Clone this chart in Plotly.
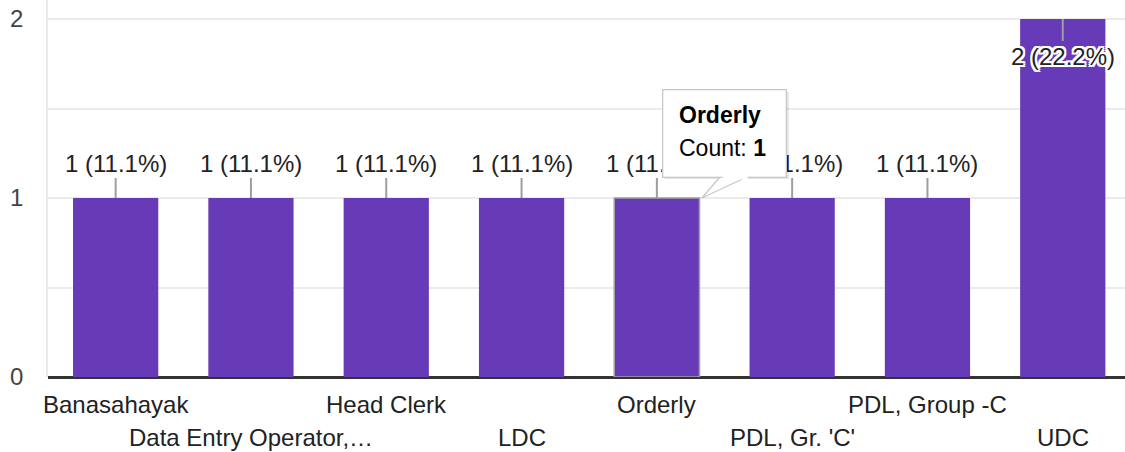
import plotly.graph_objects as go

categories = ["Banasahayak", "Data Entry Operator,…", "Head Clerk", "LDC",
              "Orderly", "PDL, Gr. 'C'", "PDL, Group -C", "UDC"]
counts = [1, 1, 1, 1, 1, 1, 1, 2]
y_tick_vals = [0, 0.5, 1, 1.5, 2]
y_tick_text = ["0", "", "1", "", "2"]
hovered = "Orderly"

total = sum(counts)
xs = list(range(len(categories)))
purple = "#673ab7"
FONT = "Arial, Liberation Sans, sans-serif"
FS = 24

hi = categories.index(hovered)
fig = go.Figure()
fig.add_trace(go.Bar(
    x=xs, y=counts, marker_color=purple,
    marker_line_color=["#a0a0a0" if i == hi else purple for i in xs],
    marker_line_width=[1.5 if i == hi else 0 for i in xs],
    hoverinfo="skip",
))

halo = ", ".join(f"{dx}px {dy}px 0 #fff" for dx in (-2, 0, 2) for dy in (-2, 0, 2) if dx or dy)
ymax = max(counts)
ann = []
for i, (c, v) in enumerate(zip(categories, counts)):
    label = f"{v} ({v / total * 100:.1f}%)"
    inside = v == ymax
    ann.append(dict(
        x=i, y=v, xref="x", yref="y", text=label, showarrow=True,
        ax=0, ay=37 if inside else -35, arrowhead=0, arrowwidth=2,
        arrowcolor="#9e9e9e", standoff=0, startstandoff=0,
        font=dict(family=FONT, size=FS, color="#222",
                  shadow=(halo if inside else "none")),
    ))
    ann.append(dict(
        x=i, y=0, xref="x", yref="y", text=c, showarrow=False,
        yshift=-27 if i % 2 == 0 else -60, xanchor="center", yanchor="middle",
        font=dict(family=FONT, size=FS, color="#222"),
    ))

# tooltip (box as annotation so it covers the labels, pointer as shape)
shadow = "M 8,19 L 132,19 L 132,106 L 8,106 Z"
pointer = "M 64,22 L 45,0 L 92,22"
shapes = [
    dict(type="path", path=shadow, xref="x", yref="y", xsizemode="pixel", ysizemode="pixel",
         xanchor=hi, yanchor=counts[hi], fillcolor="rgba(0,0,0,0.10)",
         line=dict(width=0), layer="above"),
    dict(type="path", path=pointer + " Z", xref="x", yref="y", xsizemode="pixel", ysizemode="pixel",
         xanchor=hi, yanchor=counts[hi], fillcolor="#ffffff",
         line=dict(width=0), layer="above"),
    dict(type="path", path=pointer, xref="x", yref="y", xsizemode="pixel", ysizemode="pixel",
         xanchor=hi, yanchor=counts[hi], fillcolor="rgba(0,0,0,0)",
         line=dict(color="#c8c8c8", width=1.3), layer="above"),
]
ann.append(dict(x=hi, y=counts[hi], xref="x", yref="y", text=" ", showarrow=False,
                xanchor="center", yanchor="middle", xshift=68, yshift=65,
                width=122, height=86, bgcolor="#ffffff", bordercolor="#c8c8c8",
                borderwidth=1.3, borderpad=0, font=dict(size=10)))
# cover the box border where the pointer joins
ann.append(dict(x=hi, y=counts[hi], xref="x", yref="y", text=" ", showarrow=False,
                xanchor="center", yanchor="middle", xshift=78, yshift=21,
                width=24, height=3, bgcolor="#ffffff", borderpad=0, font=dict(size=2)))
ann.append(dict(x=hi, y=counts[hi], xref="x", yref="y", text=f"<b>{hovered}</b>",
                showarrow=False, xanchor="left", yanchor="middle", xshift=20, yshift=83,
                font=dict(family=FONT, size=23, color="#000")))
ann.append(dict(x=hi, y=counts[hi], xref="x", yref="y", text=f"Count: <b>{counts[hi]}</b>",
                showarrow=False, xanchor="left", yanchor="middle", xshift=20, yshift=50,
                font=dict(family=FONT, size=23, color="#000")))

fig.update_layout(
    width=1125, height=452, margin=dict(l=48, r=0, t=0, b=75),
    paper_bgcolor="white", plot_bgcolor="white", bargap=0.37,
    showlegend=False, annotations=ann, shapes=shapes,
    xaxis=dict(range=[-0.5, 7.46], showticklabels=False, showgrid=False,
               zeroline=False, showline=False, fixedrange=True),
    yaxis=dict(range=[0, 377 / 179], tickvals=y_tick_vals, ticktext=y_tick_text,
               showgrid=True, gridcolor="#ebebeb", gridwidth=1.5,
               zeroline=True, zerolinecolor="#333", zerolinewidth=2.5,
               showline=True, linecolor="#ebebeb", linewidth=1.5,
               ticks="outside", ticklen=18, tickcolor="rgba(0,0,0,0)",
               tickfont=dict(family=FONT, size=FS, color="#444")),
)
fig.write_html("out.html", config={"displayModeBar": False},
               post_script="document.body.style.margin='0';document.body.style.overflow='hidden';")
